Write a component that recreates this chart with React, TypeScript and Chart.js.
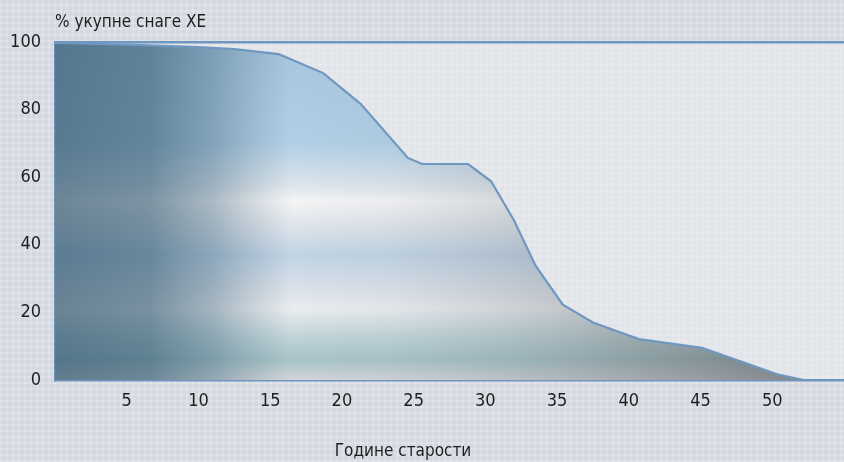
import React, { useEffect, useRef } from "react";
import { Chart, registerables } from "chart.js";

Chart.register(...registerables);

const ages = [0, 5, 10, 12.5, 15.6, 18.7, 21.3, 24.6, 25.6, 28.8, 30.4, 32.0, 33.5, 35.4, 37.5, 40.7, 45.1, 50.5, 52.2];
const shares = [99.7, 99.2, 98.5, 97.9, 96.4, 90.8, 81.7, 65.7, 63.9, 63.9, 58.8, 47.2, 33.8, 22.3, 17.0, 12.1, 9.5, 1.5, 0];
const yTicks = [0, 20, 40, 60, 80, 100];
const xTickLabels = [5, 10, 15, 20, 25, 30, 35, 40, 45, 50];
const yTitle = "% укупне снаге ХЕ";
const xTitle = "Године старости";

const FONT = '"DejaVu Sans Condensed", "Liberation Sans Narrow", sans-serif';
const LINE = "#7097c0";

export default function App() {
  const ref = useRef<HTMLCanvasElement | null>(null);

  useEffect(() => {
    if (!ref.current) return;
    const points = ages.map((a, i) => ({ x: a, y: shares[i] }));

    const baseFill = (c: any) => {
      const { chart } = c;
      const area = chart.chartArea;
      if (!area) return "rgba(180,200,220,1)";
      const g = chart.ctx.createLinearGradient(0, area.top, 0, area.bottom);
      g.addColorStop(0.0, "#a6c6de");
      g.addColorStop(0.3, "#b2cfe5");
      g.addColorStop(0.42, "#dce4ec");
      g.addColorStop(0.47, "#f4f4f5");
      g.addColorStop(0.55, "#dde3ea");
      g.addColorStop(0.63, "#c0d3e5");
      g.addColorStop(0.72, "#d8e0e8");
      g.addColorStop(0.79, "#eaecef");
      g.addColorStop(0.88, "#bcd2d6");
      g.addColorStop(0.94, "#a8c4c8");
      g.addColorStop(1.0, "#d2d5d9");
      return g;
    };

    const overlayFill = (c: any) => {
      const { chart } = c;
      const area = chart.chartArea;
      if (!area) return "rgba(0,0,0,0)";
      const g = chart.ctx.createLinearGradient(area.left, 0, area.right, 0);
      g.addColorStop(0.0, "rgba(40,78,102,0.66)");
      g.addColorStop(0.12, "rgba(45,84,108,0.6)");
      g.addColorStop(0.2, "rgba(60,98,122,0.4)");
      g.addColorStop(0.3, "rgba(90,120,140,0.0)");
      g.addColorStop(0.42, "rgba(120,130,140,0.06)");
      g.addColorStop(0.56, "rgba(110,120,130,0.2)");
      g.addColorStop(0.75, "rgba(90,95,100,0.38)");
      g.addColorStop(0.95, "rgba(70,70,75,0.55)");
      return g;
    };

    const titles = {
      id: "titles",
      beforeDraw(chart: any) {
        const { ctx, chartArea } = chart;
        ctx.save();
        ctx.fillStyle = "rgba(236,238,241,0.55)";
        ctx.fillRect(chartArea.left, chartArea.top, chartArea.right - chartArea.left, chartArea.bottom - chartArea.top);
        ctx.restore();
      },
      afterDraw(chart: any) {
        const { ctx, chartArea } = chart;
        ctx.save();
        ctx.font = `17px ${FONT}`;
        ctx.fillStyle = "#1e1e1e";
        ctx.textBaseline = "alphabetic";
        ctx.textAlign = "left";
        ctx.fillText(yTitle, chartArea.left, 27);
        ctx.textAlign = "center";
        ctx.fillText(xTitle, 403, 456);
        ctx.restore();
      },
    };

    const chart = new Chart(ref.current, {
      type: "line",
      data: {
        datasets: [
          {
            data: points,
            fill: "origin",
            backgroundColor: overlayFill,
            borderColor: LINE,
            borderWidth: 2.2,
            pointRadius: 0,
            tension: 0,
            order: 0,
          },
          {
            data: points,
            fill: "origin",
            backgroundColor: baseFill,
            borderWidth: 0,
            borderColor: "rgba(0,0,0,0)",
            pointRadius: 0,
            tension: 0,
            order: 1,
          },
        ],
      },
      options: {
        animation: false,
        responsive: false,
        layout: { padding: { top: 42, left: 0, right: 0, bottom: 0 } },
        plugins: {
          legend: { display: false },
          tooltip: { enabled: false },
          title: { display: false },
        },
        scales: {
          x: {
            type: "linear",
            min: 0,
            max: 55,
            afterFit: (axis: any) => {
              axis.height = 82;
              axis.paddingRight = 0;
              axis.paddingLeft = 0;
            },
            afterBuildTicks: (axis: any) => {
              axis.ticks = [0, ...xTickLabels, 55].map((v) => ({ value: v }));
            },
            ticks: {
              padding: 11,
              autoSkip: false,
              maxRotation: 0,
              color: "#1e1e1e",
              font: { family: FONT, size: 18 },
              callback: (v: any) => (xTickLabels.includes(Number(v)) ? String(v) : ""),
            },
            grid: { display: false, drawTicks: false },
            border: { display: true, color: LINE, width: 2.5 },
          },
          y: {
            type: "linear",
            min: 0,
            max: 100,
            afterFit: (axis: any) => {
              axis.width = 55;
              axis.paddingTop = 0;
              axis.paddingBottom = 0;
            },
            afterBuildTicks: (axis: any) => {
              axis.ticks = yTicks.map((v) => ({ value: v }));
            },
            ticks: {
              padding: 14,
              color: "#1e1e1e",
              font: { family: FONT, size: 18 },
            },
            grid: {
              drawTicks: false,
              lineWidth: 2.5,
              color: (c: any) => (c.tick && c.tick.value === 100 ? LINE : "rgba(0,0,0,0)"),
            },
            border: { display: true, color: LINE, width: 2 },
          },
        },
      },
      plugins: [titles],
    });
    return () => chart.destroy();
  }, []);

  return (
    <div
      style={{
        position: "fixed",
        left: 0,
        top: 0,
        width: 844,
        height: 462,
        backgroundColor: "#d4d8e0",
        backgroundImage:
          "repeating-linear-gradient(90deg, rgba(255,255,255,0.18) 0px, rgba(255,255,255,0.18) 2px, rgba(255,255,255,0) 2px, rgba(255,255,255,0) 6px), repeating-linear-gradient(0deg, rgba(255,255,255,0.18) 0px, rgba(255,255,255,0.18) 2px, rgba(255,255,255,0) 2px, rgba(255,255,255,0) 6px)",
      }}
    >
      <canvas ref={ref} width={844} height={462} />
    </div>
  );
}
